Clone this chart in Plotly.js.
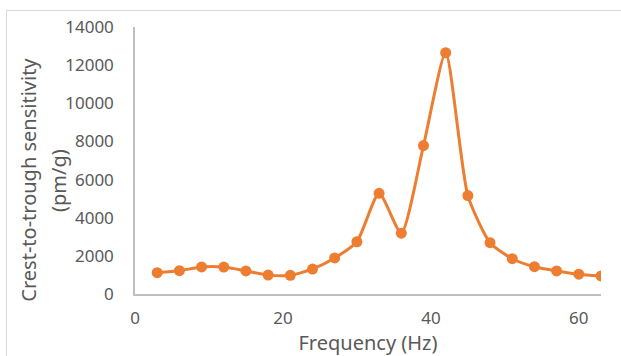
<!DOCTYPE html>
<html>
<head>
<meta charset="utf-8">
<script src="https://cdn.plot.ly/plotly-3.0.1.min.js"></script>
<style>
  html, body { margin: 0; padding: 0; background: #fff; }
  #frame { position: absolute; left: 6px; top: 10px; width: 700px; height: 400px; border: 1.5px solid #d9d9d9; }
  #chart { position: absolute; left: 0; top: 0; width: 621px; height: 356px; }
</style>
</head>
<body>
<div id="frame"></div>
<div id="chart"></div>
<script>
const frequency = [3, 6, 9, 12, 15, 18, 21, 24, 27, 30, 33, 36, 39, 42, 45, 48, 51, 54, 57, 60, 63];
const sensitivity = [1120, 1220, 1420, 1410, 1210, 990, 980, 1310, 1890, 2740, 5280, 3190, 7780, 12650, 5160, 2690, 1850, 1430, 1210, 1040, 950];
const xTicks = [0, 20, 40, 60];
const yTicks = [0, 2000, 4000, 6000, 8000, 10000, 12000, 14000];
const yTitleLines = ['Crest-to-trough sensitivity', '(pm/g)'];
const xTitle = 'Frequency (Hz)';

const orange = '#ED7D31';
const textGray = '#595959';
const fontFam = '"Noto Sans", "DejaVu Sans", sans-serif';

const trace = {
  x: frequency,
  y: sensitivity,
  type: 'scatter',
  mode: 'lines+markers',
  line: { color: orange, width: 3, shape: 'spline', smoothing: 0.6 },
  marker: { color: orange, size: 11 },
  hoverinfo: 'x+y'
};

const layout = {
  width: 621,
  height: 356,
  margin: { l: 135, r: 20, t: 27, b: 62 },
  paper_bgcolor: 'rgba(0,0,0,0)',
  plot_bgcolor: 'rgba(0,0,0,0)',
  showlegend: false,
  font: { family: fontFam, color: textGray, size: 17 },
  xaxis: {
    range: [0, 63],
    tickvals: xTicks,
    ticktext: xTicks.map(String),
    showgrid: false,
    zeroline: false,
    showline: true,
    linecolor: '#bfbfbf',
    linewidth: 1.5,
    ticks: '',
    ticklabelstandoff: 8,
    tickfont: { size: 17, color: textGray },
    title: { text: xTitle, font: { size: 20, color: textGray }, standoff: 4 }
  },
  yaxis: {
    range: [0, 14000],
    tickvals: yTicks,
    ticktext: yTicks.map(String),
    showgrid: false,
    zeroline: false,
    showline: true,
    linecolor: '#bfbfbf',
    linewidth: 1.5,
    ticks: '',
    ticklabelstandoff: 16,
    tickfont: { size: 17, color: textGray }
  },
  annotations: [
    { text: yTitleLines[0], xref: 'paper', yref: 'paper', x: -0.230, y: 0.5, xanchor: 'center', yanchor: 'middle',
      textangle: -90, showarrow: false, font: { size: 20, color: textGray }, xshift: 0 },
    { text: yTitleLines[1], xref: 'paper', yref: 'paper', x: -0.165, y: 0.5, xanchor: 'center', yanchor: 'middle',
      textangle: -90, showarrow: false, font: { size: 20, color: textGray } }
  ]
};

// place the title lines at absolute pixel centres relative to plot area
const plotW = 621 - 135 - 20;
const plotH = 356 - 27 - 62;
layout.annotations[0].x = (27.7 - 135) / plotW;
layout.annotations[1].x = (58 - 135) / plotW;
layout.annotations[0].y = (294 - 180) / plotH;
layout.annotations[1].y = (294 - 181) / plotH;

Plotly.newPlot('chart', [trace], layout, { displayModeBar: false });
</script>
</body>
</html>
